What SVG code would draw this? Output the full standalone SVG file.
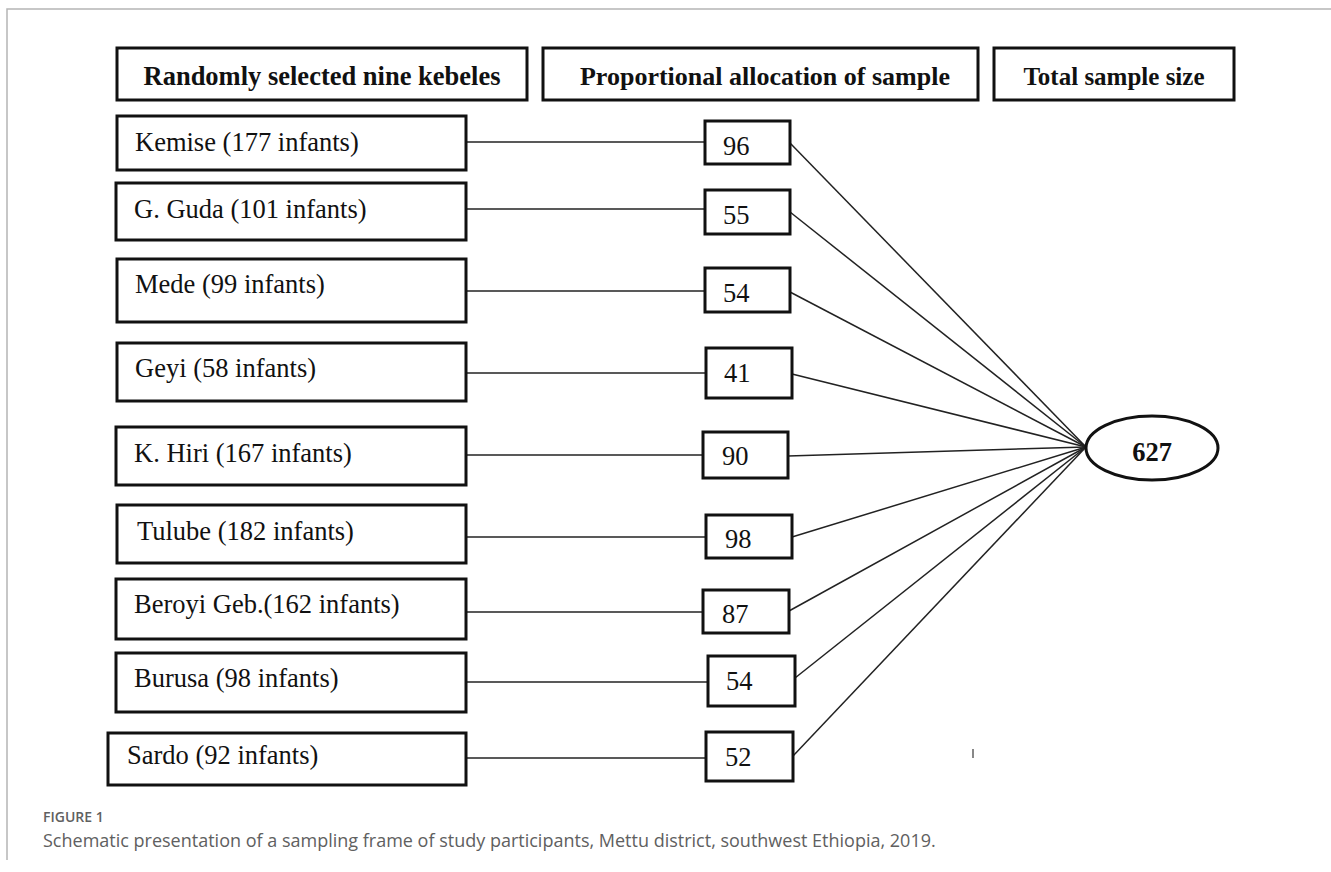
<svg xmlns="http://www.w3.org/2000/svg" width="1331" height="872" viewBox="0 0 1331 872">
<style>
.frame{stroke:#b5b5b5;stroke-width:1.5;fill:none}
.hdr{fill:#fff;stroke:#111;stroke-width:3}
.box{fill:#fff;stroke:#111;stroke-width:3}
.ht{font-family:"Liberation Serif","Times New Roman",serif;font-weight:bold;font-size:26.5px;fill:#111}
.lt{font-family:"Liberation Serif","Times New Roman",serif;font-size:26.5px;fill:#111}
.num{font-family:"Liberation Serif","Times New Roman",serif;font-size:26.5px;fill:#111}
.con{stroke:#222;stroke-width:1.5;fill:none}
.cap1{font-family:"Open Sans","Noto Sans",sans-serif;font-weight:600;font-size:14px;fill:#606060}
.cap2{font-family:"Open Sans","Noto Sans",sans-serif;font-size:18px;fill:#606060}
</style>
<rect width="1331" height="872" fill="#fff"/>
<path class="frame" d="M7,860 V9 H1331"/>

<g id="connectors">
<line class="con" x1="464" y1="142" x2="704" y2="142"/>
<line class="con" x1="464" y1="209" x2="704" y2="209"/>
<line class="con" x1="464" y1="291" x2="704" y2="291"/>
<line class="con" x1="464" y1="373" x2="706" y2="373"/>
<line class="con" x1="464" y1="455" x2="702" y2="455"/>
<line class="con" x1="464" y1="537" x2="706" y2="537"/>
<line class="con" x1="464" y1="612" x2="702" y2="612"/>
<line class="con" x1="464" y1="682" x2="707" y2="682"/>
<line class="con" x1="464" y1="758" x2="705" y2="758"/>
<line class="con" x1="790" y1="143" x2="1086" y2="447"/>
<line class="con" x1="790" y1="212" x2="1086" y2="447"/>
<line class="con" x1="790" y1="292" x2="1086" y2="447"/>
<line class="con" x1="792" y1="374" x2="1086" y2="447"/>
<line class="con" x1="788" y1="456" x2="1086" y2="447"/>
<line class="con" x1="792" y1="537" x2="1086" y2="447"/>
<line class="con" x1="789" y1="611" x2="1086" y2="447"/>
<line class="con" x1="795" y1="678" x2="1086" y2="447"/>
<line class="con" x1="793" y1="756" x2="1086" y2="447"/>
</g>

<g id="h1"><rect class="hdr" x="117" y="48" width="410" height="52"/><text class="ht" x="322" y="85" text-anchor="middle">Randomly selected nine kebeles</text></g>
<g id="h2"><rect class="hdr" x="543" y="48" width="435" height="52"/><text class="ht" x="765" y="85" text-anchor="middle" style="font-size:26px">Proportional allocation of sample</text></g>
<g id="h3"><rect class="hdr" x="994" y="48" width="240" height="52"/><text class="ht" x="1114" y="85" text-anchor="middle" style="font-size:25px">Total sample size</text></g>

<g id="kemise"><rect class="box" x="117" y="116" width="349" height="54"/><text class="lt" x="135" y="151">Kemise (177 infants)</text></g>
<g id="gguda"><rect class="box" x="116" y="183" width="350" height="57"/><text class="lt" x="134" y="218">G. Guda (101 infants)</text></g>
<g id="mede"><rect class="box" x="117" y="259" width="349" height="63"/><text class="lt" x="135" y="293">Mede (99 infants)</text></g>
<g id="geyi"><rect class="box" x="117" y="343" width="349" height="58"/><text class="lt" x="135" y="377">Geyi (58 infants)</text></g>
<g id="khiri"><rect class="box" x="116" y="427" width="350" height="58"/><text class="lt" x="134" y="462">K. Hiri (167 infants)</text></g>
<g id="tulube"><rect class="box" x="117" y="505" width="349" height="58"/><text class="lt" x="137" y="540">Tulube (182 infants)</text></g>
<g id="beroyi"><rect class="box" x="116" y="579" width="350" height="60"/><text class="lt" x="134" y="613">Beroyi Geb.(162  infants)</text></g>
<g id="burusa"><rect class="box" x="116" y="653" width="350" height="59"/><text class="lt" x="134" y="687">Burusa (98 infants)</text></g>
<g id="sardo"><rect class="box" x="108" y="733" width="358" height="52"/><text class="lt" x="127" y="764">Sardo (92 infants)</text></g>

<g id="n96"><rect class="box" x="705" y="121" width="85" height="43"/><text class="num" x="723" y="155">96</text></g>
<g id="n55"><rect class="box" x="705" y="190" width="85" height="44"/><text class="num" x="723" y="224">55</text></g>
<g id="n54a"><rect class="box" x="705" y="268" width="85" height="44"/><text class="num" x="723" y="302">54</text></g>
<g id="n41"><rect class="box" x="706" y="348" width="86" height="50"/><text class="num" x="724" y="382">41</text></g>
<g id="n90"><rect class="box" x="703" y="432" width="85" height="46"/><text class="num" x="722" y="465">90</text></g>
<g id="n98"><rect class="box" x="706" y="515" width="86" height="43"/><text class="num" x="725" y="548">98</text></g>
<g id="n87"><rect class="box" x="703" y="590" width="86" height="43"/><text class="num" x="722" y="623">87</text></g>
<g id="n54b"><rect class="box" x="708" y="656" width="87" height="50"/><text class="num" x="726" y="690">54</text></g>
<g id="n52"><rect class="box" x="706" y="732" width="87" height="49"/><text class="num" x="725" y="766">52</text></g>

<g id="total"><ellipse cx="1152" cy="448" rx="66" ry="32" fill="#fff" stroke="#111" stroke-width="3"/><text class="ht" x="1152" y="461" text-anchor="middle">627</text></g>

<line x1="973" y1="749" x2="973" y2="758" stroke="#888" stroke-width="2"/>

<text class="cap1" x="43" y="822">FIGURE 1</text>
<text class="cap2" x="43" y="847">Schematic presentation of a sampling frame of study participants, Mettu district, southwest Ethiopia, 2019.</text>
</svg>
